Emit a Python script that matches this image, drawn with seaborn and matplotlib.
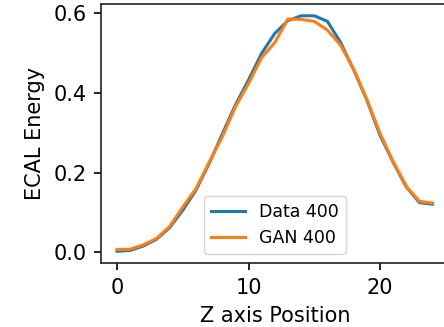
import matplotlib
matplotlib.use("Agg")
import matplotlib.pyplot as plt
import seaborn as sns
import pandas as pd
import numpy as np

z_positions = list(range(25))
data_400 = [0.003, 0.005, 0.016, 0.033, 0.062, 0.106, 0.156, 0.223, 0.297, 0.370,
            0.433, 0.500, 0.550, 0.582, 0.594, 0.594, 0.580, 0.527, 0.458, 0.382,
            0.294, 0.226, 0.164, 0.125, 0.121]
gan_400 = [0.0075, 0.008, 0.019, 0.035, 0.065, 0.114, 0.160, 0.226, 0.290, 0.365,
           0.424, 0.489, 0.527, 0.586, 0.585, 0.580, 0.558, 0.520, 0.460, 0.384,
           0.299, 0.228, 0.166, 0.128, 0.124]
series_labels = ["Data 400", "GAN 400"]

df = pd.DataFrame({
    "z": z_positions * 2,
    "energy": data_400 + gan_400,
    "series": [series_labels[0]] * len(z_positions) + [series_labels[1]] * len(z_positions),
})

plt.rcParams["axes.linewidth"] = 1.2
plt.rcParams["xtick.major.width"] = 1.2
plt.rcParams["ytick.major.width"] = 1.2
plt.rcParams["xtick.major.size"] = 5
plt.rcParams["ytick.major.size"] = 5
plt.rcParams["xtick.major.pad"] = 5.5
plt.rcParams["ytick.major.pad"] = 5.5
plt.rcParams["axes.edgecolor"] = "#222222"

fig = plt.figure(figsize=(4.44, 3.27), dpi=100)
ax = fig.add_axes([0.228, 0.1957, 0.782, 0.792])
sns.lineplot(data=df, x="z", y="energy", hue="series",
             palette=["#1f77b4", "#ff7f0e"], linewidth=2.2, ax=ax)
ax.set_xlabel("Z axis Position", fontsize=15, labelpad=6)
ax.set_ylabel("ECAL Energy", fontsize=15, labelpad=6)
ax.tick_params(labelsize=15)
ax.set_xticks([0, 10, 20])
ax.set_yticks([0.0, 0.2, 0.4, 0.6])
ax.legend(loc="lower center", fontsize=12.5)
fig.savefig("out.png", dpi=100)
